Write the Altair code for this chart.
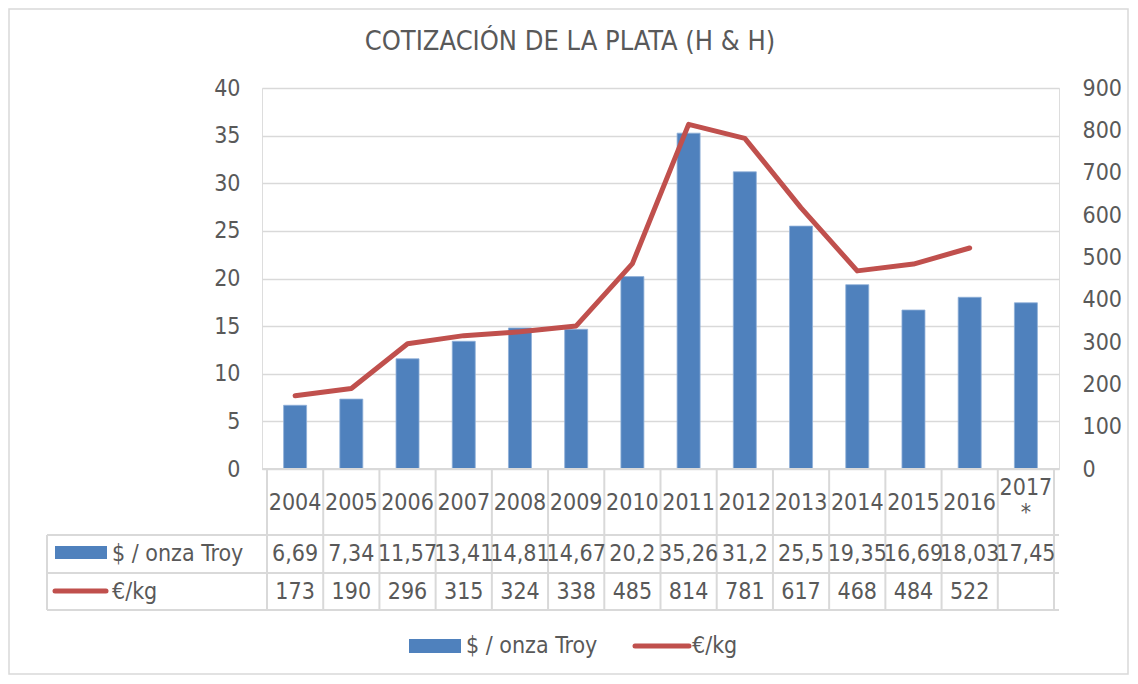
import altair as alt
import pandas as pd

YEARS = ["2004", "2005", "2006", "2007", "2008", "2009", "2010", "2011",
         "2012", "2013", "2014", "2015", "2016", "2017\n*"]
USD = [6.69, 7.34, 11.57, 13.41, 14.81, 14.67, 20.2, 35.26, 31.2, 25.5,
       19.35, 16.69, 18.03, 17.45]
EUR = [173, 190, 296, 315, 324, 338, 485, 814, 781, 617, 468, 484, 522, None]
LEFT_TICKS = [0, 5, 10, 15, 20, 25, 30, 35, 40]
RIGHT_TICKS = [0, 100, 200, 300, 400, 500, 600, 700, 800, 900]
SERIES = ["$ / onza Troy", "€/kg"]
TITLE = "COTIZACIÓN DE LA PLATA (H & H)"

FONT = "Tahoma, 'DejaVu Sans Condensed', 'DejaVu Sans', sans-serif"
TXT = "#595959"
GRID = "#d9d9d9"
BLUE = "#4f81bd"
RED = "#c0504d"
TFS = 23  # table font size

W, H = 797, 381

df = pd.DataFrame({
    "idx": list(range(len(YEARS))),
    "year": YEARS,
    "usd": USD,
    "eur": EUR,
    "usd_txt": [str(v).replace(".", ",") for v in USD],
    "eur_txt": ["" if v is None else str(v) for v in EUR],
})
bounds = pd.DataFrame({"b": [i - 0.5 for i in range(len(YEARS) + 1)]})

xscale = alt.Scale(domain=[-0.5, len(YEARS) - 0.5], nice=False, zero=False)
X = alt.X("idx:Q", scale=xscale, axis=None)

base = alt.Chart(df)

bars = base.mark_bar(color=BLUE, size=23, stroke="#8fb0d8", strokeWidth=0.8).encode(
    x=X,
    y=alt.Y("usd:Q", scale=alt.Scale(domain=[0, 40], nice=False),
            axis=alt.Axis(values=LEFT_TICKS, title=None, domain=False, ticks=False,
                          grid=True, gridColor=GRID, gridWidth=1.5,
                          labelFont=FONT, labelFontSize=23, labelColor=TXT,
                          labelPadding=22, labelFlush=False)),
)

line = base.transform_filter("isValid(datum.eur)").mark_line(
    color=RED, strokeWidth=5, strokeJoin="round", strokeCap="round").encode(
    x=X,
    y=alt.Y("eur:Q", scale=alt.Scale(domain=[0, 900], nice=False),
            axis=alt.Axis(orient="right", values=RIGHT_TICKS, title=None, domain=False,
                          ticks=False, grid=False,
                          labelFont=FONT, labelFontSize=23, labelColor=TXT,
                          labelPadding=23, labelFlush=False)),
)

# data table
vlines = alt.Chart(bounds).mark_rule(color=GRID, strokeWidth=2).encode(
    x=alt.X("b:Q", scale=xscale, axis=None),
    y=alt.value(381), y2=alt.value(522))

hl = []
for yy, x0 in [(381, 0), (447, -215), (485, -215), (522, -215)]:
    hl.append(alt.Chart(df).mark_rule(color=GRID, strokeWidth=2).encode(
        x=alt.value(x0), x2=alt.value(W), y=alt.value(yy)))
leftv = alt.Chart(df).mark_rule(color=GRID, strokeWidth=2).encode(
    x=alt.value(-215), y=alt.value(447), y2=alt.value(522))

tprops = dict(font=FONT, fontSize=TFS, color=TXT, align="center", baseline="middle")
hdr = base.transform_filter("indexof(datum.year, '\\n') < 0").mark_text(**tprops).encode(
    x=X, y=alt.value(415), text="year:N")
hdr2 = base.transform_filter("indexof(datum.year, '\\n') >= 0").mark_text(
    lineBreak="\n", lineHeight=25, **tprops).encode(
    x=X, y=alt.value(400), text="year:N")
row1 = base.mark_text(**tprops).encode(x=X, y=alt.value(466), text="usd_txt:N")
row2 = base.mark_text(**tprops).encode(x=X, y=alt.value(504), text="eur_txt:N")

lab = pd.DataFrame({"name": SERIES})
lprops = dict(font=FONT, fontSize=TFS, color=TXT, align="left", baseline="middle")
lab1 = alt.Chart(lab).transform_filter(alt.datum.name == SERIES[0]).mark_text(**lprops).encode(
    x=alt.value(-150), y=alt.value(466), text="name:N")
lab2 = alt.Chart(lab).transform_filter(alt.datum.name == SERIES[1]).mark_text(**lprops).encode(
    x=alt.value(-150), y=alt.value(504), text="name:N")
sw1 = alt.Chart(lab).transform_filter(alt.datum.name == SERIES[0]).mark_rect(color=BLUE).encode(
    x=alt.value(-207), x2=alt.value(-155), y=alt.value(458), y2=alt.value(471))
sw2 = alt.Chart(lab).transform_filter(alt.datum.name == SERIES[1]).mark_rule(
    color=RED, strokeWidth=5, strokeCap="round").encode(
    x=alt.value(-207), x2=alt.value(-156), y=alt.value(503))

# bottom legend
lg1 = alt.Chart(lab).transform_filter(alt.datum.name == SERIES[0]).mark_rect(color=BLUE).encode(
    x=alt.value(147), x2=alt.value(199), y=alt.value(551), y2=alt.value(565))
lg1t = alt.Chart(lab).transform_filter(alt.datum.name == SERIES[0]).mark_text(**lprops).encode(
    x=alt.value(204), y=alt.value(558), text="name:N")
lg2 = alt.Chart(lab).transform_filter(alt.datum.name == SERIES[1]).mark_rule(
    color=RED, strokeWidth=5, strokeCap="round").encode(
    x=alt.value(373), x2=alt.value(427), y=alt.value(558))
lg2t = alt.Chart(lab).transform_filter(alt.datum.name == SERIES[1]).mark_text(**lprops).encode(
    x=alt.value(430), y=alt.value(558), text="name:N")

title = alt.Chart(pd.DataFrame({"t": [TITLE]})).mark_text(
    font=FONT, fontSize=27, color=TXT, align="center", baseline="middle").encode(
    x=alt.value(308), y=alt.value(-46), text="t:N")

border = alt.Chart(lab).transform_filter(alt.datum.name == SERIES[0]).mark_rect(
    fill=None, stroke=GRID, strokeWidth=1.5).encode(
    x=alt.value(-253), x2=alt.value(866), y=alt.value(-79), y2=alt.value(586))

chart = alt.layer(
    border, bars, line, vlines, *hl, leftv, hdr, hdr2, row1, row2,
    lab1, lab2, sw1, sw2, lg1, lg1t, lg2, lg2t, title
).resolve_scale(y="independent").properties(
    width=W, height=H,
    autosize=alt.AutoSizeParams(type="none"),
    padding={"left": 254, "top": 80, "right": 70, "bottom": 207},
).configure_view(stroke=None).configure(background="white")

chart.save("out.html", embed_options={"renderer": "svg", "actions": False})
